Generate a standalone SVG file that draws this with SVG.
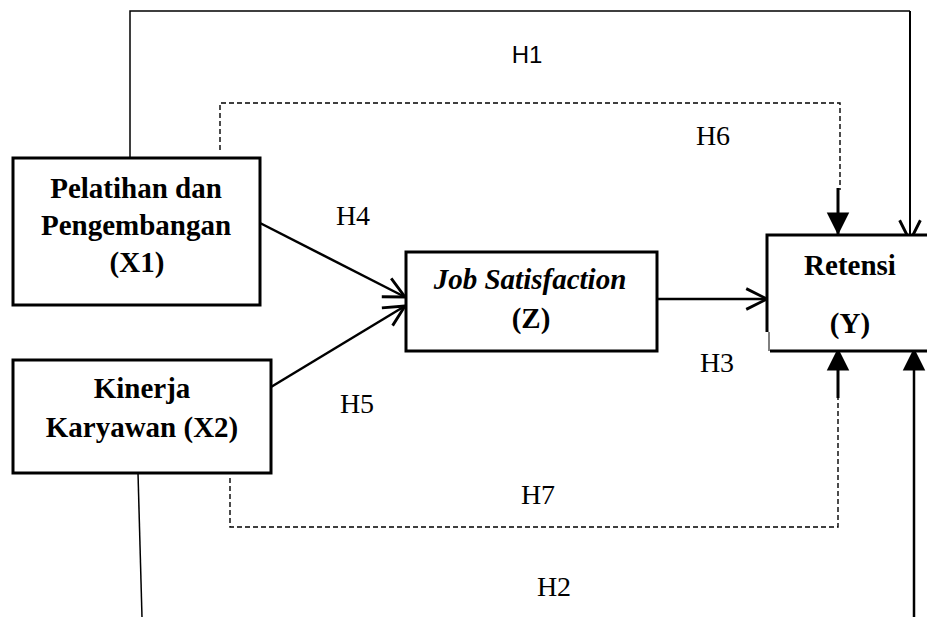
<svg xmlns="http://www.w3.org/2000/svg" width="927" height="617" viewBox="0 0 927 617">
<defs>
<marker id="open" markerUnits="userSpaceOnUse" markerWidth="30" markerHeight="30" viewBox="-22 -12 26 24" refX="0" refY="0" orient="auto" overflow="visible">
<path d="M-18,-9 L0,0 L-18,9" fill="none" stroke="#000" stroke-width="2.5"/>
</marker>
<marker id="solid" markerUnits="userSpaceOnUse" markerWidth="30" markerHeight="30" viewBox="-18 -10 20 20" refX="0" refY="0" orient="auto" overflow="visible">
<path d="M0,0 L-15,-7.5 L-15,7.5 Z" fill="#000"/>
</marker>
</defs>
<style>
.box{fill:#fff;stroke:#000;stroke-width:3}
.lbl{font-family:"Liberation Serif","Times New Roman",serif;font-weight:bold;font-size:29px;text-anchor:middle;fill:#000}
.h{font-family:"Liberation Serif","Times New Roman",serif;font-size:28px;text-anchor:middle;fill:#000}
.hs{font-family:"Liberation Sans",Arial,sans-serif;font-size:24px;text-anchor:middle;fill:#000}
.ln{fill:none;stroke:#000}
.dash{fill:none;stroke:#000;stroke-width:1.4;stroke-dasharray:5 3}
</style>
<rect width="927" height="617" fill="#fff"/>
<g id="connectors">
<path class="ln" d="M130,158 L130,11 L910,11" stroke-width="1.5"/>
<path class="ln" d="M910,11 L910,241" stroke-width="2" marker-end="url(#open)"/>
<path class="dash" d="M220,150 L220,103 L840,103 L840,190"/>
<path class="ln" d="M838,188 L838,235" stroke-width="3" marker-end="url(#solid)"/>
<path class="ln" d="M260,223 L405,297" stroke-width="2.5" marker-end="url(#open)"/>
<path class="ln" d="M271,387 L405,306" stroke-width="2.5" marker-end="url(#open)"/>
<path class="ln" d="M657,299 L767,299" stroke-width="2.5" marker-end="url(#open)"/>
<path class="dash" d="M230,478 L230,527 L838,527 L838,398"/>
<path class="ln" d="M838,398 L838,348" stroke-width="3" marker-end="url(#solid)"/>
<path class="ln" d="M138,473 L142,617" stroke-width="1.5"/>
<path class="ln" d="M914,617 L914,348" stroke-width="2.5" marker-end="url(#solid)"/>
<text class="hs" x="527" y="63">H1</text>
<text class="h" x="713" y="145">H6</text>
<text class="h" x="353" y="225">H4</text>
<text class="h" x="717" y="372">H3</text>
<text class="h" x="357" y="413">H5</text>
<text class="h" x="538" y="504">H7</text>
<text class="h" x="554" y="596">H2</text>
</g>
<g id="x1">
<rect class="box" x="13" y="158" width="247" height="147"/>
<text class="lbl" x="136" y="198">Pelatihan dan</text>
<text class="lbl" x="136" y="235">Pengembangan</text>
<text class="lbl" x="137" y="272">(X1)</text>
</g>
<g id="x2">
<rect class="box" x="13" y="360" width="258" height="113"/>
<text class="lbl" x="142" y="398">Kinerja</text>
<text class="lbl" x="142" y="437">Karyawan (X2)</text>
</g>
<g id="z">
<rect class="box" x="406" y="252" width="251" height="99"/>
<text class="lbl" x="530" y="289" font-style="italic">Job Satisfaction</text>
<text class="lbl" x="531" y="328">(Z)</text>
</g>
<g id="y">
<rect x="767" y="235" width="170" height="116" fill="#fff"/>
<path class="ln" d="M765.5,235 L930,235 M767,235 L767,332 M770,351 L930,351" stroke-width="3"/>
<path class="ln" d="M769,332 L769,351" stroke="#999" stroke-width="1"/>
<text class="lbl" x="850" y="275" font-size="31">Retensi</text>
<text class="lbl" x="850" y="333" font-size="30">(Y)</text>
</g>
</svg>
